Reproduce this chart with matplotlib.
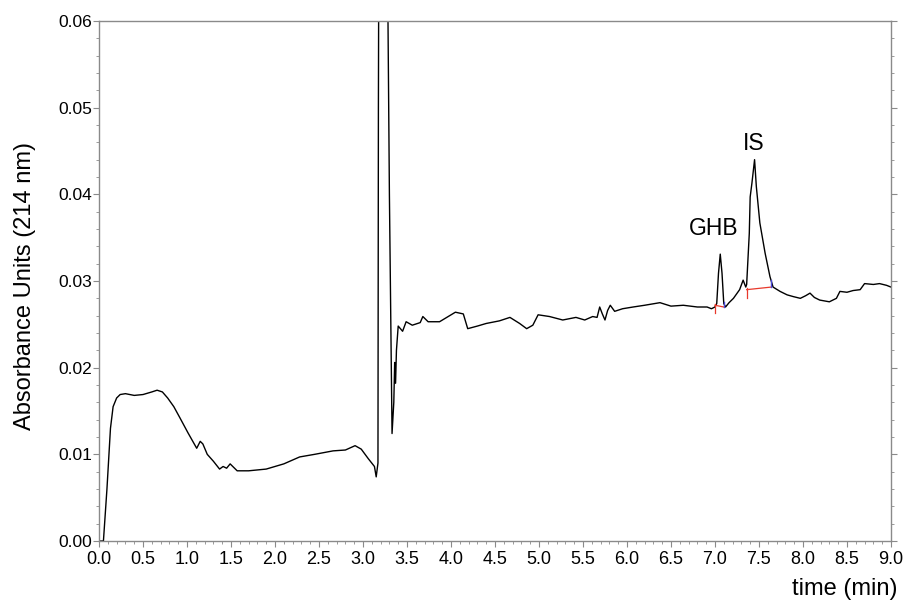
import matplotlib.pyplot as plt
import numpy as np
from matplotlib.ticker import MultipleLocator, FormatStrFormatter

plt.rcParams['font.family'] = ['Liberation Sans', 'DejaVu Sans']

# chromatogram trace (time in min, absorbance in AU)
t = [0.0, 0.05, 0.09, 0.13, 0.16, 0.20, 0.24, 0.30, 0.40, 0.50, 0.60, 0.66, 0.72,
     0.78, 0.85, 0.92, 1.01, 1.11, 1.15, 1.18, 1.23, 1.30, 1.37, 1.41, 1.45, 1.49,
     1.53, 1.57, 1.70, 1.90, 2.10, 2.28, 2.45, 2.66, 2.80, 2.91, 2.98, 3.06, 3.13,
     3.15, 3.17, 3.175, 3.185, 3.20, 3.26, 3.28, 3.30, 3.33, 3.35, 3.36, 3.37, 3.38,
     3.40, 3.45, 3.49, 3.56, 3.65, 3.68, 3.74, 3.87, 4.05, 4.14, 4.19, 4.30, 4.40,
     4.55, 4.67, 4.78, 4.86, 4.93, 4.99, 5.12, 5.27, 5.42, 5.52, 5.61, 5.66, 5.69,
     5.72, 5.75, 5.78, 5.81, 5.86, 5.95, 6.07, 6.20, 6.375, 6.50, 6.64, 6.80, 6.91,
     6.96, 7.00, 7.02, 7.04, 7.06, 7.08, 7.10, 7.12, 7.16, 7.21, 7.28, 7.32, 7.35,
     7.36, 7.39, 7.40, 7.42, 7.45, 7.47, 7.51, 7.57, 7.625, 7.66, 7.74, 7.82, 7.89,
     7.97, 8.03, 8.08, 8.13, 8.19, 8.30, 8.38, 8.42, 8.50, 8.57, 8.65, 8.70, 8.80,
     8.87, 8.95, 9.0]
a = [0.0, 0.0, 0.006, 0.013, 0.0155, 0.0165, 0.0169, 0.0170, 0.0168, 0.0169, 0.0172,
     0.0174, 0.0172, 0.0165, 0.0155, 0.0142, 0.0125, 0.0107, 0.0115, 0.0112, 0.0100,
     0.0092, 0.0083, 0.0086, 0.0084, 0.0089, 0.0085, 0.0081, 0.0081, 0.0083, 0.0089,
     0.0097, 0.0100, 0.0104, 0.0105, 0.0110, 0.0106, 0.0095, 0.0086, 0.0074, 0.0090,
     0.050, 0.090, 0.090, 0.090, 0.065, 0.040, 0.0124, 0.016, 0.0206, 0.0182, 0.0220,
     0.0248, 0.0242, 0.0253, 0.0249, 0.0252, 0.0259, 0.0253, 0.0253, 0.0264, 0.0262,
     0.0245, 0.0248, 0.0251, 0.0254, 0.0258, 0.0251, 0.0245, 0.0249, 0.0261, 0.0259,
     0.0255, 0.0258, 0.0255, 0.0259, 0.0258, 0.0270, 0.0262, 0.0255, 0.0266, 0.0272,
     0.0265, 0.0268, 0.0270, 0.0272, 0.0275, 0.0271, 0.0272, 0.0270, 0.0270, 0.0268,
     0.0270, 0.0274, 0.0309, 0.0331, 0.0309, 0.0274, 0.0270, 0.0275, 0.0280, 0.0290,
     0.0301, 0.0293, 0.0296, 0.0355, 0.0397, 0.0413, 0.0440, 0.0409, 0.0367, 0.0332,
     0.0305, 0.0293, 0.0288, 0.0284, 0.0282, 0.0280, 0.0283, 0.0286, 0.0281, 0.0278,
     0.0276, 0.0280, 0.0288, 0.0287, 0.0289, 0.0290, 0.0297, 0.0296, 0.0297, 0.0295,
     0.0293]

# integration baselines (start, end) and labels
ghb_base_t = [7.00, 7.10]
ghb_base_a = [0.0272, 0.0270]
is_base_t = [7.36, 7.64]
is_base_a = [0.0290, 0.0293]
peak_names = ['GHB', 'IS']
peak_label_t = [6.98, 7.44]
peak_label_a = [0.0353, 0.0451]

fig = plt.figure(figsize=(9.06, 6.03), dpi=100)
ax = fig.add_axes([0.1093, 0.1028, 0.8741, 0.8624])

ax.plot(t, a, color='black', lw=1.0)

red = '#e8392c'
blue = '#4a4ad8'
ax.plot(ghb_base_t, ghb_base_a, color=red, lw=0.9)
ax.plot(is_base_t, is_base_a, color=red, lw=0.9)
# start / end ticks of the integration windows
ax.plot([ghb_base_t[0]] * 2, [ghb_base_a[0] - 0.0009, ghb_base_a[0] + 0.0002], color=red, lw=0.9)
ax.plot([ghb_base_t[1]] * 2, [ghb_base_a[1], ghb_base_a[1] + 0.0006], color=blue, lw=1.0)
ax.plot([is_base_t[0]] * 2, [is_base_a[0] - 0.0010, is_base_a[0] + 0.0002], color=red, lw=0.9)
ax.plot([is_base_t[1]] * 2, [is_base_a[1], is_base_a[1] + 0.0008], color=blue, lw=1.0)

for name, x, y in zip(peak_names, peak_label_t, peak_label_a):
    ax.text(x, y, name, fontsize=16.5, ha='center', va='baseline')

ax.set_xlim(0, 9.0)
ax.set_ylim(0, 0.06)
ax.xaxis.set_major_locator(MultipleLocator(0.5))
ax.xaxis.set_minor_locator(MultipleLocator(0.1))
ax.yaxis.set_major_locator(MultipleLocator(0.01))
ax.yaxis.set_minor_locator(MultipleLocator(0.002))
ax.xaxis.set_major_formatter(FormatStrFormatter('%.1f'))
ax.yaxis.set_major_formatter(FormatStrFormatter('%.2f'))

for s in ax.spines.values():
    s.set_color('#8a8a8a')
    s.set_linewidth(1.0)
ax.tick_params(which='both', direction='out', color='#8a8a8a', labelsize=13,
               top=False, right=True)
ax.tick_params(axis='x', pad=3)
ax.tick_params(axis='y', pad=1, labelsize=12.5)
ax.tick_params(which='major', length=4)
ax.tick_params(which='minor', length=2.5)

fig.text(25 / 906, 0.526, 'Absorbance Units (214 nm)', fontsize=17, rotation=90,
         ha='center', va='center')
fig.text(0.991, 0.005, 'time (min)', fontsize=17, ha='right', va='bottom')

fig.savefig('out.png', dpi=100)
